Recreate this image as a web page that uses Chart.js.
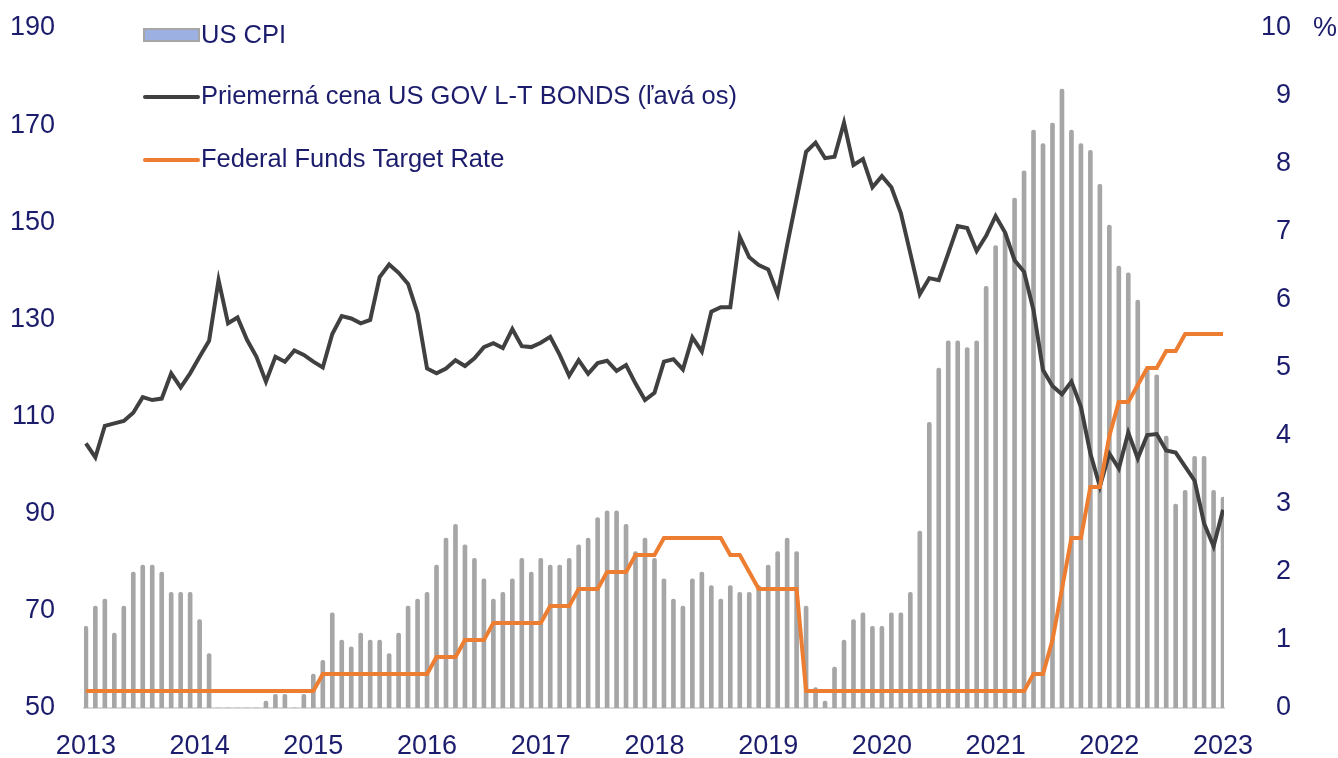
<!DOCTYPE html>
<html>
<head>
<meta charset="utf-8">
<script src="https://cdn.jsdelivr.net/npm/chart.js@4.4.1/dist/chart.umd.min.js"></script>
<style>
  html, body { margin: 0; padding: 0; background: #fff; }
  #wrap { width: 1338px; height: 758px; }
</style>
</head>
<body>
<div id="wrap"><canvas id="chart"></canvas></div>
<script>
// US CPI (bars, right axis, %), average price of US gov long-term bonds (left axis)
// and the Federal Funds target rate (right axis, %). One value per month.

const yearLabels = ["2013", "2014", "2015", "2016", "2017", "2018", "2019", "2020", "2021", "2022", "2023"];

const usCpi = [
    1.2, 1.5,
    1.6, 1.1, 1.5, 2.0, 2.1, 2.1, 2.0, 1.7, 1.7, 1.7, 1.3, 0.8,
    -0.1, 0.0, -0.1, -0.2, 0.0, 0.1, 0.2, 0.2, 0.0, 0.2, 0.5, 0.7,
    1.4, 1.0, 0.9, 1.1, 1.0, 1.0, 0.8, 1.1, 1.5, 1.6, 1.7, 2.1,
    2.5, 2.7, 2.4, 2.2, 1.9, 1.6, 1.7, 1.9, 2.2, 2.0, 2.2, 2.1,
    2.1, 2.2, 2.4, 2.5, 2.8, 2.9, 2.9, 2.7, 2.3, 2.5, 2.2, 1.9,
    1.6, 1.5, 1.9, 2.0, 1.8, 1.6, 1.8, 1.7, 1.7, 1.8, 2.1, 2.3,
    2.5, 2.3, 1.5, 0.3, 0.1, 0.6, 1.0, 1.3, 1.4, 1.2, 1.2, 1.4,
    1.4, 1.7, 2.6, 4.2, 5.0, 5.4, 5.4, 5.3, 5.4, 6.2, 6.8, 7.0,
    7.5, 7.9, 8.5, 8.3, 8.6, 9.1, 8.5, 8.3, 8.2, 7.7, 7.1, 6.5,
    6.4, 6.0, 5.0, 4.9, 4.0, 3.0, 3.2, 3.7, 3.7, 3.2, 3.1
];

const bondPrice = [
    104.5, 101.6, 108.1, 108.6, 109.1, 110.8, 114.0, 113.4, 113.7, 118.9, 116.0, 118.9,
    122.3, 125.6, 138.1, 129.2, 130.4, 125.8, 122.3, 117.2, 122.3, 121.3, 123.6, 122.7,
    121.3, 120.1, 127.0, 130.7, 130.2, 129.2, 129.9, 138.7, 141.3, 139.6, 137.3, 131.3,
    119.9, 118.9, 119.9, 121.6, 120.4, 122.0, 124.3, 125.1, 124.1, 128.0, 124.5, 124.3,
    125.2, 126.4, 122.7, 118.4, 121.6, 118.8, 121.0, 121.5, 119.4, 120.6, 116.8, 113.4,
    114.9, 121.3, 121.8, 119.7, 126.3, 123.4, 131.6, 132.5, 132.5, 147.0, 142.8, 141.2,
    140.3, 135.2, 145.3, 154.9, 164.5, 166.4, 163.2, 163.5, 170.5, 161.8, 163.0, 157.2,
    159.5, 157.2, 151.9, 143.6, 135.2, 138.5, 138.1, 143.6, 149.2, 148.8, 144.1, 147.2,
    151.3, 147.9, 142.2, 139.8, 131.9, 119.6, 116.3, 114.6, 117.2, 112.0, 102.4, 95.6,
    102.4, 99.3, 106.7, 101.4, 106.2, 106.4, 103.0, 102.6, 99.7, 96.8, 88.0, 83.3,
    90.8
];

const fedRate = [
    0.25, 0.25, 0.25, 0.25, 0.25, 0.25, 0.25, 0.25, 0.25, 0.25, 0.25, 0.25,
    0.25, 0.25, 0.25, 0.25, 0.25, 0.25, 0.25, 0.25, 0.25, 0.25, 0.25, 0.25,
    0.25, 0.5, 0.5, 0.5, 0.5, 0.5, 0.5, 0.5, 0.5, 0.5, 0.5, 0.5,
    0.5, 0.75, 0.75, 0.75, 1.0, 1.0, 1.0, 1.25, 1.25, 1.25, 1.25, 1.25,
    1.25, 1.5, 1.5, 1.5, 1.75, 1.75, 1.75, 2.0, 2.0, 2.0, 2.25, 2.25,
    2.25, 2.5, 2.5, 2.5, 2.5, 2.5, 2.5, 2.5, 2.25, 2.25, 2.0, 1.75,
    1.75, 1.75, 1.75, 1.75, 0.25, 0.25, 0.25, 0.25, 0.25, 0.25, 0.25, 0.25,
    0.25, 0.25, 0.25, 0.25, 0.25, 0.25, 0.25, 0.25, 0.25, 0.25, 0.25, 0.25,
    0.25, 0.25, 0.25, 0.25, 0.5, 0.5, 1.0, 1.75, 2.5, 2.5, 3.25, 3.25,
    4.0, 4.5, 4.5, 4.75, 5.0, 5.0, 5.25, 5.25, 5.5, 5.5, 5.5, 5.5,
    5.5
];

const leftTicks = [50, 70, 90, 110, 130, 150, 170, 190];
const rightTicks = [0, 1, 2, 3, 4, 5, 6, 7, 8, 9, 10];

const navy = "#1c1c6c";
const fontFamily = "'Liberation Sans', Arial, sans-serif";

const toPoints = arr => arr.map((v, i) => ({ x: i, y: v }));

// Legend in the top-left corner plus the "%" unit next to the right axis
const legendPlugin = {
    id: "customLegend",
    afterDraw(chart) {
        const ctx = chart.ctx;
        ctx.save();
        ctx.font = "25.5px " + fontFamily;
        ctx.textBaseline = "middle";
        ctx.textAlign = "left";

        ctx.fillStyle = "#9cb0e2";
        ctx.fillRect(144, 29, 55, 12);
        ctx.strokeStyle = "#a6a6a6";
        ctx.lineWidth = 2;
        ctx.strokeRect(144, 29, 55, 12);
        ctx.fillStyle = navy;
        ctx.fillText("US CPI", 201, 36);

        ctx.lineCap = "round";
        ctx.lineWidth = 4;
        ctx.strokeStyle = "#404040";
        ctx.beginPath();
        ctx.moveTo(145, 97);
        ctx.lineTo(198, 97);
        ctx.stroke();
        ctx.fillText("Priemerná cena US GOV L-T BONDS (ľavá os)", 201, 97);

        ctx.strokeStyle = "#ed7d31";
        ctx.beginPath();
        ctx.moveTo(145, 160);
        ctx.lineTo(198, 160);
        ctx.stroke();
        ctx.fillText("Federal Funds Target Rate", 201, 160);

        ctx.font = "27px " + fontFamily;
        ctx.textAlign = "center";
        ctx.fillText("%", 1325, 29);
        ctx.restore();
    }
};

// vertical axes: fixed width, no extra top/bottom padding from the labels
const fixVertical = width => scale => {
    scale.width = width;
    scale.paddingTop = 0;
    scale.paddingBottom = 0;
};

const chart = new Chart(document.getElementById("chart"), {
    type: "bar",
    data: {
        datasets: [
            {
                type: "line",
                label: "Federal Funds Target Rate",
                data: toPoints(fedRate),
                yAxisID: "y1",
                borderColor: "#ed7d31",
                borderWidth: 4,
                pointRadius: 0,
                tension: 0,
                order: 1
            },
            {
                type: "line",
                label: "Priemerná cena US GOV L-T BONDS (ľavá os)",
                data: toPoints(bondPrice),
                yAxisID: "y",
                borderColor: "#404040",
                borderWidth: 4,
                pointRadius: 0,
                tension: 0,
                order: 2
            },
            {
                type: "bar",
                label: "US CPI",
                data: toPoints(usCpi),
                yAxisID: "y1",
                backgroundColor: "#a6a6a6",
                barThickness: 4,
                borderRadius: 2,
                borderSkipped: "start",
                order: 3
            }
        ]
    },
    options: {
        responsive: true,
        maintainAspectRatio: false,
        animation: false,
        layout: { padding: { top: 28, left: 0, right: 47, bottom: 0 } },
        plugins: {
            legend: { display: false },
            tooltip: { enabled: false }
        },
        scales: {
            x: {
                type: "linear",
                offset: false,
                min: -0.2,
                max: 120.1,
                grid: { display: false, drawTicks: false },
                border: { display: true, color: "#d9d9d9", width: 2 },
                afterBuildTicks: scale => {
                    scale.ticks = yearLabels.map((_, k) => ({ value: k * 12 }));
                },
                afterFit: scale => { scale.height = 50; },
                ticks: {
                    autoSkip: false,
                    maxRotation: 0,
                    padding: 22,
                    color: navy,
                    font: { family: fontFamily, size: 27 },
                    callback: (v, idx) => yearLabels[idx]
                }
            },
            y: {
                position: "left",
                min: leftTicks[0],
                max: leftTicks[leftTicks.length - 1],
                grid: { display: false, drawTicks: false },
                border: { display: false },
                afterBuildTicks: scale => {
                    scale.ticks = leftTicks.map(v => ({ value: v }));
                },
                afterFit: fixVertical(84),
                ticks: {
                    padding: 29,
                    color: navy,
                    font: { family: fontFamily, size: 27 }
                }
            },
            y1: {
                position: "right",
                min: rightTicks[0],
                max: rightTicks[rightTicks.length - 1],
                grid: { display: false, drawTicks: false },
                border: { display: false },
                afterBuildTicks: scale => {
                    scale.ticks = rightTicks.map(v => ({ value: v }));
                },
                afterFit: fixVertical(67),
                ticks: {
                    padding: 4,
                    crossAlign: "far",
                    color: navy,
                    font: { family: fontFamily, size: 27 }
                }
            }
        }
    },
    plugins: [legendPlugin]
});
</script>
</body>
</html>
